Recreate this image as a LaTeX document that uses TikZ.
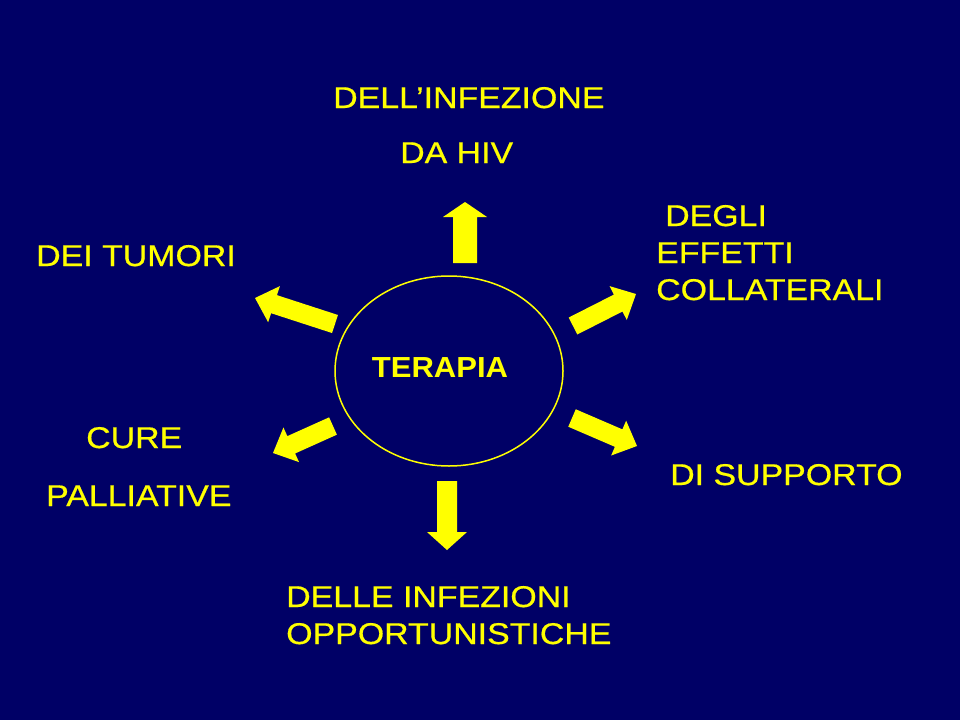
\documentclass[tikz,border=0pt]{standalone}
\usepackage{fontspec}
\setmainfont[FakeStretch=1.13,FakeBold=0.6]{Liberation Sans}
\newfontfamily\boldlabel[FakeStretch=1.07]{Liberation Sans Bold}
\usetikzlibrary{calc}
\definecolor{bgnavy}{RGB}{0,0,102}
\definecolor{labelyellow}{RGB}{255,255,0}
\tikzset{
  lbl/.style={anchor=base west, inner sep=0pt, text=labelyellow, font=\fontsize{30}{30}\selectfont},
}
% block arrow: tail, tip, shaft half width, head half width, head length
\newcommand\blockarrow[5]{%
  \fill[labelyellow]
    ($(#1)!#3!90:(#2)$) --
    ($($(#2)!#5!(#1)$)!#3!-90:(#1)$) --
    ($($(#2)!#5!(#1)$)!#4!-90:(#1)$) --
    (#2) --
    ($($(#2)!#5!(#1)$)!#4!90:(#1)$) --
    ($($(#2)!#5!(#1)$)!#3!90:(#1)$) --
    ($(#1)!#3!-90:(#2)$) -- cycle;}
\begin{document}
\begin{tikzpicture}[x=1pt,y=-1pt]
  \fill[bgnavy] (0,0) rectangle (960,720);
  \useasboundingbox (0,0) rectangle (960,720);

  % central ellipse
  \draw[labelyellow, line width=1.5pt] (449,371) ellipse [x radius=114, y radius=95];
  \coordinate (center) at (449,371);
  \node (terapia) [inner sep=0pt, text=labelyellow, font=\boldlabel\fontsize{29}{29}\selectfont] at (440,368) {TERAPIA};

  % arrow endpoints
  \coordinate (uptail) at (465,263);   \coordinate (uptip) at (465,202);
  \coordinate (dntail) at (447,481);   \coordinate (dntip) at (447,550);
  \coordinate (ultail) at (335,324);   \coordinate (ultip) at (255,298);
  \coordinate (urtail) at (573,326);   \coordinate (urtip) at (636,294);
  \coordinate (lltail) at (333,426);   \coordinate (lltip) at (273,453);
  \coordinate (lrtail) at (572,418);   \coordinate (lrtip) at (637,446);

  \blockarrow{uptail}{uptip}{12pt}{22pt}{15pt}
  \blockarrow{dntail}{dntip}{10pt}{20pt}{18pt}
  \blockarrow{ultail}{ultip}{9.5pt}{19pt}{20pt}
  \blockarrow{urtail}{urtip}{9.5pt}{19pt}{20pt}
  \blockarrow{lltail}{lltip}{9.5pt}{19pt}{20pt}
  \blockarrow{lrtail}{lrtip}{9.5pt}{19pt}{20pt}

  % labels
  \node (hiv1) [lbl] at (333,108) {DELL’INFEZIONE};
  \node (hiv2) [lbl] at (400,163) {DA HIV};
  \node (eff1) [lbl] at (665,226) {DEGLI};
  \node (eff2) [lbl] at (656,263) {EFFETTI};
  \node (eff3) [lbl] at (656,300) {COLLATERALI};
  \node (tum)  [lbl] at (36,266) {DEI TUMORI};
  \node (cur1) [lbl] at (86,448) {CURE};
  \node (cur2) [lbl] at (46,506) {PALLIATIVE};
  \node (sup)  [lbl] at (670,485) {DI SUPPORTO};
  \node (opp1) [lbl] at (286,607) {DELLE INFEZIONI};
  \node (opp2) [lbl] at (286,644) {OPPORTUNISTICHE};
\end{tikzpicture}
\end{document}
